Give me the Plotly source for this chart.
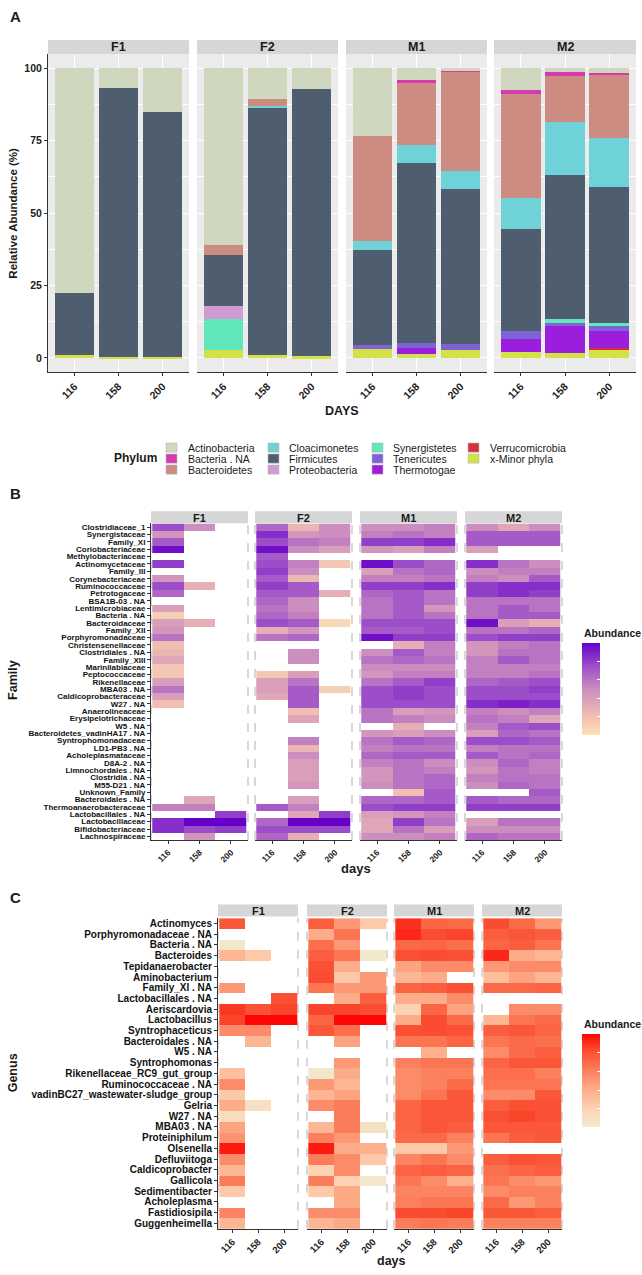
import plotly.graph_objects as go

W, H = 642, 1275
FONT = "Liberation Sans"
INK = "#1a1a1a"

# ---------------- data ----------------
facets = ["F1", "F2", "M1", "M2"]
days = ["116", "158", "200"]

# Panel A: relative abundance (%) per phylum, samples ordered F1(116,158,200), F2(...), M1(...), M2(...)
phyla = ["Actinobacteria", "Bacteria . NA", "Bacteroidetes", "Cloacimonetes", "Firmicutes",
         "Proteobacteria", "Synergistetes", "Tenericutes", "Thermotogae", "Verrucomicrobia",
         "x-Minor phyla"]
phylum_colors = ["#cfd8bf", "#d63aae", "#cc8c82", "#6fd2d8", "#4e5e6f",
                 "#d29ad2", "#62e6bc", "#7d63d4", "#9a1edc", "#d4313a", "#d4e048"]

actinobacteria = [77.5, 6.6, 15.2, 60.9, 10.6, 7.2, 23.4, 4.0, 0.9, 7.4, 1.3, 1.7]
bacteria_na = [0, 0, 0, 0, 0, 0, 0, 1.2, 0.3, 1.5, 1.5, 0.3]
bacteroidetes = [0, 0, 0, 3.4, 2.4, 0, 36.3, 21.4, 34.3, 36.0, 15.8, 22.2]
cloacimonetes = [0, 0, 0, 0, 0.8, 0, 3.0, 6.0, 6.1, 10.5, 18.2, 16.9]
firmicutes = [21.5, 93.1, 84.5, 17.9, 85.2, 92.3, 32.7, 62.1, 53.5, 35.2, 49.9, 47.0]
proteobacteria = [0, 0, 0, 4.2, 0, 0, 0, 0, 0, 0, 0, 0]
synergistetes = [0, 0, 0, 10.9, 0, 0, 0, 0, 0, 0, 1.3, 0.8]
tenericutes = [0, 0, 0, 0, 0, 0, 1.4, 2.0, 2.2, 2.7, 0.9, 1.7]
thermotogae = [0, 0, 0, 0, 0, 0, 0, 2.1, 0, 4.7, 9.5, 5.8]
verrucomicrobia = [0, 0, 0, 0, 0, 0, 0, 0, 0, 0, 0, 0.9]
minor_phyla = [1.0, 0.3, 0.3, 2.7, 1.0, 0.5, 3.2, 1.2, 2.7, 2.0, 1.6, 2.7]

phylum_values = [actinobacteria, bacteria_na, bacteroidetes, cloacimonetes, firmicutes,
                 proteobacteria, synergistetes, tenericutes, thermotogae, verrucomicrobia,
                 minor_phyla]

# Panel B: family abundance (scaled 0-1), rows = families, cols = days
families = ["Clostridiaceae_1", "Synergistaceae", "Family_XI", "Coriobacteriaceae",
            "Methylobacteriaceae", "Actinomycetaceae", "Family_III", "Corynebacteriaceae",
            "Ruminococcaceae", "Petrotogaceae", "BSA1B-03 . NA", "Lentimicrobiaceae",
            "Bacteria . NA", "Bacteroidaceae", "Family_XII", "Porphyromonadaceae",
            "Christensenellaceae", "Clostridiales . NA", "Family_XIII", "Marinilabiaceae",
            "Peptococcaceae", "Rikenellaceae", "MBA03 . NA", "Caldicoprobacteraceae",
            "W27 . NA", "Anaerolineaceae", "Erysipelotrichaceae", "W5 . NA",
            "Bacteroidetes_vadinHA17 . NA", "Syntrophomonadaceae", "LD1-PB3 . NA",
            "Acholeplasmataceae", "D8A-2 . NA", "Limnochordales . NA", "Clostridia . NA",
            "M55-D21 . NA", "Unknown_Family", "Bacteroidales . NA", "Thermoanaerobacteraceae",
            "Lactobacillales . NA", "Lactobacillaceae", "Bifidobacteriaceae", "Lachnospiraceae"]
N = None
fam_F1 = [[0.75, 0.5, N], [0.45, N, N], [0.7, N, N], [0.95, N, N], [N, N, N],
          [0.8, N, N], [N, N, N], [0.45, N, N], [0.75, 0.3, N], [0.65, N, N],
          [N, N, N], [0.4, N, N], [0.1, N, N], [0.4, 0.3, N], [0.45, N, N],
          [0.6, N, N], [0.2, N, N], [0.25, N, N], [0.35, N, N], [0.15, N, N],
          [0.15, N, N], [0.4, N, N], [0.6, N, N], [0.4, N, N], [0.2, N, N],
          [N, N, N], [N, N, N], [N, N, N], [N, N, N], [N, N, N],
          [N, N, N], [N, N, N], [N, N, N], [N, N, N], [N, N, N],
          [N, N, N], [N, N, N], [N, 0.35, N], [0.55, 0.55, N], [N, N, 0.8],
          [0.85, 1.0, 1.0], [0.85, 0.75, 0.8], [N, 0.45, N]]
fam_F2 = [[0.65, 0.25, 0.5], [0.85, 0.45, 0.5], [0.75, 0.6, 0.55], [0.95, 0.5, 0.4], [0.7, N, N],
          [0.75, 0.55, 0.15], [0.8, 0.5, N], [0.7, 0.25, N], [0.8, 0.7, N], [0.7, 0.7, 0.3],
          [0.65, 0.5, N], [0.6, 0.5, N], [0.65, 0.55, N], [0.75, 0.7, 0.05], [0.3, 0.45, N],
          [0.6, 0.65, N], [N, N, N], [N, 0.5, N], [N, 0.5, N], [N, N, N],
          [0.15, 0.4, N], [0.4, 0.6, N], [0.4, 0.7, 0.1], [0.35, 0.7, N], [N, 0.7, N],
          [N, 0.2, N], [N, 0.35, N], [N, N, N], [N, N, N], [N, 0.55, N],
          [N, 0.25, N], [N, 0.5, N], [N, 0.4, N], [N, 0.4, N], [N, 0.4, N],
          [N, 0.45, N], [N, N, N], [N, 0.4, N], [0.7, 0.55, N], [N, 0.35, 0.8],
          [0.65, 1.0, 1.0], [0.75, 0.75, 0.75], [0.65, 0.3, N]]
fam_M1 = [[0.5, 0.5, 0.55], [0.55, 0.6, 0.55], [0.8, 0.8, 0.85], [0.45, 0.4, 0.55], [N, N, N],
          [0.95, 0.75, 0.65], [0.4, 0.6, 0.65], [0.55, 0.55, 0.6], [0.8, 0.8, 0.85], [0.65, 0.7, 0.6],
          [0.6, 0.7, 0.6], [0.6, 0.7, 0.45], [0.6, 0.7, 0.6], [0.75, 0.75, 0.75], [0.7, 0.7, 0.75],
          [0.95, 0.8, 0.8], [N, 0.3, 0.55], [0.5, 0.7, 0.55], [0.6, 0.65, 0.6], [0.5, 0.5, 0.5],
          [0.45, 0.55, 0.55], [0.6, 0.7, 0.8], [0.75, 0.8, 0.75], [0.75, 0.8, 0.75], [0.75, 0.75, 0.75],
          [0.6, 0.4, 0.45], [0.6, 0.55, 0.5], [N, 0.3, N], [0.45, 0.4, 0.5], [0.6, 0.7, 0.65],
          [0.55, 0.6, 0.6], [0.65, 0.7, 0.7], [0.55, 0.6, 0.5], [0.45, 0.6, 0.55], [0.45, 0.6, 0.65],
          [0.5, 0.6, 0.65], [N, 0.2, 0.7], [0.65, 0.65, 0.7], [0.75, 0.8, 0.8], [0.4, 0.45, 0.55],
          [0.35, 0.8, 0.6], [0.35, 0.6, 0.4], [0.5, 0.5, 0.55]]
fam_M2 = [[0.5, 0.35, 0.5], [0.7, 0.7, 0.7], [0.7, 0.7, 0.7], [0.4, N, N], [N, N, N],
          [0.85, 0.6, 0.5], [0.5, 0.55, 0.55], [0.55, 0.5, 0.7], [0.8, 0.85, 0.85], [0.8, 0.85, 0.8],
          [0.6, 0.6, 0.6], [0.6, 0.7, 0.6], [0.6, 0.7, 0.7], [0.95, 0.4, 0.3], [0.6, 0.6, 0.65],
          [0.75, 0.8, 0.8], [0.45, 0.55, 0.6], [0.45, 0.6, 0.6], [0.55, 0.7, 0.6], [0.55, 0.55, 0.55],
          [0.55, 0.55, 0.6], [0.65, 0.7, 0.75], [0.75, 0.75, 0.8], [0.75, 0.75, 0.75], [0.85, 0.9, 0.85],
          [0.55, 0.5, 0.55], [0.6, 0.55, 0.35], [0.55, 0.7, 0.75], [0.4, 0.65, 0.6], [0.75, 0.75, 0.7],
          [0.55, 0.6, 0.6], [0.7, 0.6, 0.65], [0.5, 0.65, 0.55], [0.45, 0.6, 0.55], [0.55, 0.6, 0.6],
          [0.5, 0.65, 0.6], [N, N, 0.7], [0.7, 0.65, 0.65], [0.8, 0.8, 0.8], [N, N, N],
          [0.4, 0.6, 0.6], [0.5, 0.5, 0.5], [0.65, 0.6, 0.6]]

# Panel C: genus abundance (scaled 0-1)
genera = ["Actinomyces", "Porphyromonadaceae . NA", "Bacteria . NA", "Bacteroides",
          "Tepidanaerobacter", "Aminobacterium", "Family_XI . NA", "Lactobacillales . NA",
          "Aeriscardovia", "Lactobacillus", "Syntrophaceticus", "Bacteroidales . NA", "W5 . NA",
          "Syntrophomonas", "Rikenellaceae_RC9_gut_group", "Ruminococcaceae . NA",
          "vadinBC27_wastewater-sludge_group", "Gelria", "W27 . NA", "MBA03 . NA",
          "Proteiniphilum", "Olsenella", "Defluviitoga", "Caldicoprobacter", "Gallicola",
          "Sedimentibacter", "Acholeplasma", "Fastidiosipila", "Guggenheimella"]
gen_F1 = [[0.78, N, N], [N, N, N], [0.05, N, N], [0.35, 0.25, N], [N, N, N],
          [N, N, N], [0.5, N, N], [N, N, 0.8], [0.88, 0.8, 0.85], [0.85, 1.0, 1.0],
          [0.55, 0.55, N], [N, 0.35, N], [N, N, N], [N, N, N], [0.3, N, N],
          [0.55, N, N], [0.25, N, N], [0.4, 0.1, N], [0.12, N, N], [0.45, N, N],
          [0.52, N, N], [0.95, N, N], [0.55, N, N], [0.35, N, N], [0.62, N, N],
          [0.25, N, N], [N, N, N], [0.58, N, N], [0.35, N, N]]
gen_F2 = [[0.75, 0.5, 0.25], [0.4, 0.65, N], [0.68, 0.5, N], [0.75, 0.65, 0.03], [0.8, 0.4, N],
          [0.82, 0.25, 0.5], [0.65, 0.5, 0.5], [N, 0.4, 0.75], [0.85, 0.85, 0.82], [0.72, 1.0, 1.0],
          [0.78, 0.68, N], [N, 0.45, N], [N, N, N], [N, 0.5, N], [0.05, 0.4, N],
          [0.5, 0.35, N], [0.35, 0.45, N], [0.55, 0.62, N], [N, 0.62, N], [0.35, 0.62, 0.08],
          [0.6, 0.5, N], [0.95, 0.4, 0.38], [0.62, 0.55, 0.25], [0.2, 0.55, N], [0.62, 0.2, 0.05],
          [0.25, 0.42, N], [N, 0.42, N], [0.55, 0.55, N], [0.35, 0.42, N]]
gen_M1 = [[0.9, 0.72, 0.7], [0.92, 0.82, 0.85], [0.7, 0.72, 0.68], [0.8, 0.82, 0.8], [0.45, 0.55, 0.55],
          [0.35, 0.4, N], [0.72, 0.75, 0.8], [0.4, 0.4, 0.55], [0.2, 0.72, 0.45], [0.4, 0.82, 0.7],
          [0.8, 0.82, 0.8], [0.65, 0.65, 0.72], [N, 0.38, N], [0.6, 0.65, 0.65], [0.55, 0.6, 0.6],
          [0.55, 0.6, 0.7], [0.55, 0.65, 0.78], [0.72, 0.78, 0.78], [0.72, 0.78, 0.78], [0.72, 0.78, 0.75],
          [0.7, 0.7, 0.6], [0.25, 0.25, 0.5], [0.58, 0.65, 0.55], [0.72, 0.75, 0.72], [0.65, 0.55, 0.38],
          [0.58, 0.58, 0.58], [0.6, 0.65, 0.65], [0.82, 0.82, 0.85], [0.62, 0.65, 0.62]]
gen_M2 = [[0.82, 0.7, 0.5], [0.75, 0.78, 0.75], [0.72, 0.75, 0.65], [0.92, 0.4, 0.35], [0.5, 0.55, 0.55],
          [0.3, 0.45, 0.35], [0.7, 0.7, 0.72], [N, N, N], [N, 0.55, 0.55], [0.35, 0.65, 0.7],
          [0.75, 0.78, 0.72], [0.65, 0.7, 0.68], [0.55, 0.7, 0.75], [0.72, 0.78, 0.78], [0.68, 0.68, 0.6],
          [0.65, 0.65, 0.65], [0.55, 0.55, 0.78], [0.75, 0.8, 0.8], [0.8, 0.85, 0.8], [0.78, 0.78, 0.78],
          [0.65, 0.75, 0.78], [N, N, N], [0.75, 0.8, 0.78], [0.68, 0.72, 0.75], [0.65, 0.55, 0.5],
          [0.55, 0.6, 0.6], [0.7, 0.5, 0.6], [0.78, 0.78, 0.75], [0.6, 0.6, 0.6]]

fam_data = [fam_F1, fam_F2, fam_M1, fam_M2]
gen_data = [gen_F1, gen_F2, gen_M1, gen_M2]

family_scale = [[0, "#fde0b6"], [0.25, "#ebb7b2"], [0.5, "#cc8dbf"], [0.75, "#9c4dc9"], [1, "#6600c8"]]
genus_scale = [[0, "#eeeecf"], [0.2, "#fdd2b2"], [0.45, "#fca37f"], [0.7, "#fb6a48"],
               [0.85, "#f9452a"], [1, "#ff0505"]]

# ---------------- layout geometry (pixels) ----------------
A_x = [(48, 189), (197, 338), (346, 487), (494, 636)]
A_y = (53, 372)
A_strip = (39, 53)
B_x = [(151, 248), (255, 352), (360, 457), (465, 562)]
B_y = (523.3, 840.4)
B_strip = (511, 523)
C_x = [(218, 298), (307, 387), (394, 474), (482, 562)]
C_y = (918.6, 1229.6)
C_strip = (905, 917)


def px(x):
    return x / W


def py(y):
    return 1 - y / H


def font(size, bold=False, color=INK):
    d = dict(family=FONT, size=size, color=color)
    if bold:
        d["weight"] = "bold"
    return d


fig = go.Figure()
shapes = []
annotations = []
layout_axes = {}


def axname(n, kind):
    return f"{kind}axis" if n == 1 else f"{kind}axis{n}"


def axref(n, kind):
    return kind if n == 1 else f"{kind}{n}"


def ann(text, x, y, size, bold=False, xanchor="center", yanchor="middle", angle=0):
    annotations.append(dict(text=text, x=px(x), y=py(y), xref="paper", yref="paper",
                            showarrow=False, font=font(size, bold), xanchor=xanchor,
                            yanchor=yanchor, textangle=angle))


def strip(x0, x1, y0, y1, label, size):
    shapes.append(dict(type="rect", xref="paper", yref="paper", x0=px(x0), x1=px(x1),
                       y0=py(y1), y1=py(y0), fillcolor="#d6d6d6", line=dict(width=0)))
    ann(label, (x0 + x1) / 2, (y0 + y1) / 2 + 0.5, size, bold=True)


# ---------------- Panel A ----------------
for fi, f in enumerate(facets):
    n = fi + 1
    xa, xb = A_x[fi]
    layout_axes[axname(n, "x")] = dict(
        domain=[px(xa), px(xb)], anchor=axref(n, "y"), type="category",
        categoryorder="array", categoryarray=days, range=[-0.6, 2.6],
        showgrid=True, gridcolor="white", gridwidth=1.2, showline=True,
        linecolor="#333", linewidth=1, ticks="outside", ticklen=3, tickcolor="#333",
        tickangle=-45, tickfont=font(10.5, True, "#222"), zeroline=False)
    layout_axes[axname(n, "y")] = dict(
        domain=[py(A_y[1]), py(A_y[0])], anchor=axref(n, "x"), range=[-5, 105],
        tick0=0, dtick=25, showgrid=True, gridcolor="white", gridwidth=1.2,
        minor=dict(tick0=0, dtick=12.5, showgrid=True, gridcolor="white", gridwidth=0.6),
        zeroline=False, showline=(n == 1), linecolor="#333", linewidth=1,
        ticks="outside" if n == 1 else "", ticklen=3, tickcolor="#333",
        showticklabels=(n == 1), tickfont=font(10.5, True, "#222"))
    shapes.append(dict(type="rect", xref=f"{axref(n, 'x')} domain", yref=f"{axref(n, 'y')} domain",
                       x0=0, x1=1, y0=0, y1=1, fillcolor="#ebebeb", line=dict(width=0),
                       layer="below"))
    strip(xa, xb, A_strip[0], A_strip[1], f, 12.5)

# stack from bottom (last phylum) to top (first phylum)
for pi in reversed(range(len(phyla))):
    vals = phylum_values[pi]
    for fi in range(4):
        n = fi + 1
        fig.add_trace(go.Bar(
            x=days, y=vals[fi * 3:(fi + 1) * 3], name=phyla[pi], width=0.9,
            marker=dict(color=phylum_colors[pi], line=dict(width=0)),
            xaxis=axref(n, "x"), yaxis=axref(n, "y"), showlegend=False))

ann("A", 8, 16, 15, bold=True, xanchor="left")
ann("Relative Abundance (%)", 13, 213, 11.5, bold=True, angle=-90)
ann("DAYS", 342, 411, 12.5, bold=True)

# legend for phyla (drawn as keys + labels)
ann("Phylum", 112, 458, 12, bold=True, xanchor="left")
key_x = [166, 268, 372, 468]
text_x = [186, 287, 391, 488]
row_y = [447.3, 458.3, 469.3]
for pi, p in enumerate(phyla):
    c, r = divmod(pi, 3)
    shapes.append(dict(type="rect", xref="paper", yref="paper",
                       x0=px(key_x[c]), x1=px(key_x[c] + 11),
                       y0=py(row_y[r] + 4.6), y1=py(row_y[r] - 4.6),
                       fillcolor=phylum_colors[pi], line=dict(width=0.6, color="#bbbbbb")))
    ann(p, text_x[c], row_y[r], 10.5, xanchor="left")


# ---------------- heatmap panels ----------------
def heat_panel(base, xs, ys, strip_y, rows, data, cax, label_size, xtick_size, xr):
    for fi, f in enumerate(facets):
        n = base + fi
        xa, xb = xs[fi]
        layout_axes[axname(n, "x")] = dict(
            domain=[px(xa), px(xb)], anchor=axref(n, "y"), type="category",
            categoryorder="array", categoryarray=days, range=xr,
            showgrid=False, showline=True, linecolor="#333", linewidth=1,
            ticks="outside", ticklen=3, tickcolor="#333", tickangle=-45,
            tickfont=font(xtick_size, True, "#222"), zeroline=False)
        layout_axes[axname(n, "y")] = dict(
            domain=[py(ys[1]), py(ys[0])], anchor=axref(n, "x"), type="category",
            categoryorder="array", categoryarray=rows, range=[len(rows) - 0.5, -0.5],
            tickmode="array", tickvals=rows, ticktext=rows,
            showgrid=False, zeroline=False, showline=(fi == 0), linecolor="#333",
            linewidth=1, ticks="outside" if fi == 0 else "", ticklen=3, tickcolor="#333",
            showticklabels=(fi == 0), tickfont=font(label_size, True, "#111"))
        for xd in (0, 1):
            shapes.append(dict(type="line", xref=f"{axref(n, 'x')} domain",
                               yref=f"{axref(n, 'y')} domain", x0=xd, x1=xd, y0=0, y1=1,
                               line=dict(color="#cfcfcf", width=1.6, dash="dash"),
                               layer="below"))
        fig.add_trace(go.Heatmap(
            x=days, y=rows, z=data[fi], coloraxis=cax, xaxis=axref(n, "x"),
            yaxis=axref(n, "y"), hoverongaps=False, name=f))
        strip(xa, xb, strip_y[0], strip_y[1], f, 11)


heat_panel(5, B_x, B_y, B_strip, families, fam_data, "coloraxis", 8, 8.5, [-0.54, 2.54])
heat_panel(9, C_x, C_y, C_strip, genera, gen_data, "coloraxis2", 10, 9.5, [-0.55, 2.53])

ann("B", 8, 493, 15, bold=True, xanchor="left")
ann("Family", 13, 680, 12.5, bold=True, angle=-90)
ann("days", 356, 869, 13, bold=True)
ann("C", 8, 898, 15, bold=True, xanchor="left")
ann("Genus", 13, 1074, 12.5, bold=True, angle=-90)
ann("days", 391, 1262, 12.5, bold=True)

# colourbar titles
ann("Abundance", 582, 633, 10.5, bold=True, xanchor="left")
ann("Abundance", 582, 1025, 10.5, bold=True, xanchor="left")


def cbar(y0, y1):
    return dict(x=px(582), xanchor="left", xpad=0, ypad=0,
                y=py((y0 + y1) / 2), yanchor="middle", len=y1 - y0, lenmode="pixels",
                thickness=18, thicknessmode="pixels", outlinewidth=0,
                showticklabels=False, ticks="inside", ticklen=3, tickcolor="white",
                tickvals=[0.2, 0.4, 0.6, 0.8])


fig.update_layout(
    width=W, height=H, autosize=False, margin=dict(l=0, r=0, t=0, b=0),
    paper_bgcolor="white", plot_bgcolor="white", barmode="stack", bargap=0.1,
    showlegend=False, font=font(10),
    coloraxis=dict(colorscale=family_scale, cmin=0, cmax=1, colorbar=cbar(643, 735)),
    coloraxis2=dict(colorscale=genus_scale, cmin=0, cmax=1, colorbar=cbar(1035, 1128)),
    shapes=shapes, annotations=annotations, **layout_axes)

# remove the default page margin so the figure sits at the window's top-left corner
fig.write_html("out.html", config={"displayModeBar": False},
               post_script="document.body.style.margin='0px';document.body.style.overflow='hidden';")
